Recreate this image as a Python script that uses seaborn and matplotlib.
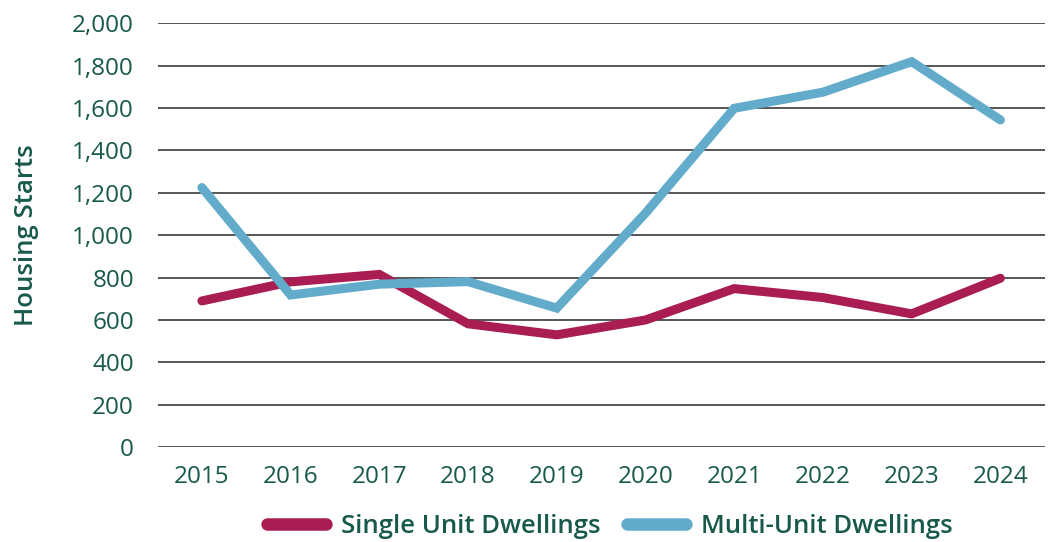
import pandas as pd
import matplotlib.pyplot as plt
import seaborn as sns

# values
years = ["2015", "2016", "2017", "2018", "2019", "2020", "2021", "2022", "2023", "2024"]
single_unit = [690, 780, 815, 582, 530, 600, 748, 706, 629, 797]
multi_unit = [1225, 718, 769, 781, 656, 1104, 1599, 1675, 1819, 1544]
series_names = ["Single Unit Dwellings", "Multi-Unit Dwellings"]
y_ticks = [0, 200, 400, 600, 800, 1000, 1200, 1400, 1600, 1800, 2000]

df = pd.DataFrame({
    "Year": years * 2,
    "Starts": single_unit + multi_unit,
    "Type": [series_names[0]] * len(years) + [series_names[1]] * len(years),
})

sns.set_style("white")
plt.rcParams["font.family"] = ["Open Sans", "DejaVu Sans"]

text_color = "#17594a"
palette = {series_names[0]: "#a91d52", series_names[1]: "#62abcb"}

fig = plt.figure(figsize=(10.5, 5.42), dpi=100)
ax = fig.add_axes([0.150, 0.175, 0.845, 0.782])

ax.grid(axis="y", color="#3a3a3a", linewidth=1.2)
ax.set_axisbelow(True)

sns.lineplot(data=df, x="Year", y="Starts", hue="Type", palette=palette,
             linewidth=6.5, solid_capstyle="round", solid_joinstyle="miter",
             sort=False, ax=ax)

ax.set_ylim(0, 2000)
ax.set_xlim(-0.5, len(years) - 0.5)
ax.set_yticks(y_ticks)
ax.set_yticklabels([f"{v:,}" for v in y_ticks])
ax.tick_params(axis="y", length=0, pad=17, labelsize=17.5, labelcolor=text_color)
ax.tick_params(axis="x", length=0, pad=13, labelsize=17.5, labelcolor=text_color)
for s in ax.spines.values():
    s.set_visible(False)

ax.set_xlabel("")
ax.set_ylabel("Housing Starts", fontsize=18.5, fontweight="semibold", color=text_color)
ax.yaxis.set_label_coords(-0.134, 0.5)

leg = ax.legend(loc="center", bbox_to_anchor=(0.51, -0.188), ncol=2, frameon=False,
                fontsize=18.5, handlelength=2.3, columnspacing=1.0, handletextpad=0.6)
for t in leg.get_texts():
    t.set_color(text_color)
    t.set_fontweight("semibold")
for h in leg.get_lines():
    h.set_linewidth(9)
    h.set_solid_capstyle("round")

fig.savefig("out.png", dpi=100)
plt.close(fig)
